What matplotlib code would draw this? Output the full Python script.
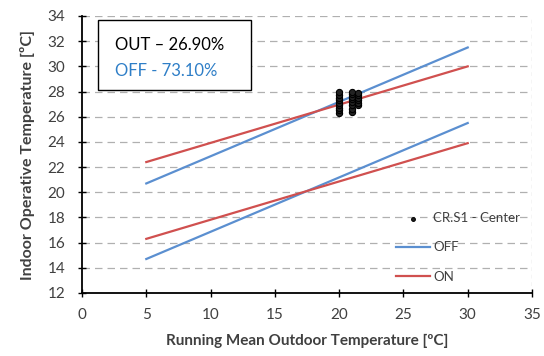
import matplotlib
matplotlib.use("Agg")
import matplotlib.pyplot as plt
from matplotlib.patches import Rectangle

plt.rcParams['font.family'] = ['Lato', 'DejaVu Sans']

x_line = [5, 30]
off_upper = [20.7, 31.5]
off_lower = [14.7, 25.5]
on_upper = [22.4, 30.0]
on_lower = [16.3, 23.9]

scatter_x = [20.0]*9 + [21.0]*8 + [21.5]*6
scatter_y = [26.3, 26.5, 26.7, 26.9, 27.1, 27.3, 27.5, 27.75, 28.0,
             26.4, 26.65, 26.9, 27.15, 27.4, 27.6, 27.8, 27.95,
             26.9, 27.1, 27.3, 27.5, 27.7, 27.9]

xticks = list(range(0, 36, 5))
yticks = list(range(12, 35, 2))

fig = plt.figure(figsize=(5.44, 3.56), dpi=100)
ax = fig.add_axes([82/544, 1-293/356, 450/544, 277/356])

blue = '#5b8fd0'
red = '#d0504f'
ax.plot(x_line, off_upper, color=blue, lw=1.6, label='OFF')
ax.plot(x_line, off_lower, color=blue, lw=1.6)
ax.plot(x_line, on_upper, color=red, lw=1.6, label='ON')
ax.plot(x_line, on_lower, color=red, lw=1.6)
sc = ax.scatter(scatter_x, scatter_y, s=20, facecolor='#222222', edgecolor='black', lw=0.8,
                zorder=3, label='CR.S1 - Center')

ax.set_xlim(0, 35)
ax.set_ylim(12, 34)
ax.set_xticks(xticks)
ax.set_yticks(yticks)
ax.yaxis.grid(True, linestyle=(0, (6, 4)), color='#b0b0b0', lw=0.9)
ax.axvline(35, linestyle=(0, (3, 3)), color='#b0b0b0', lw=0.9, zorder=0)
ax.set_axisbelow(True)
for s in ['top', 'right']:
    ax.spines[s].set_visible(False)
for s in ['left', 'bottom']:
    ax.spines[s].set_linewidth(1.3)
ax.tick_params(direction='inout', length=6, width=1, labelsize=11, colors='#404040')
ax.tick_params(axis='both', color='black')
ax.tick_params(axis='y', pad=9)
ax.tick_params(axis='x', pad=8)

ax.set_xlabel('Running Mean Outdoor Temperature [ºC]', fontsize=11, fontweight='bold',
              color='#404040', labelpad=8)
ax.set_ylabel('Indoor Operative Temperature [ºC]', fontsize=11.5, fontweight='bold',
              color='#404040', labelpad=9)

handles = [sc, ax.lines[0], ax.lines[2]]
leg = ax.legend(handles, ['CR.S1 - Center', 'OFF', 'ON'], loc='lower right',
                bbox_to_anchor=(1.0, -0.005), frameon=False, fontsize=9.5,
                labelspacing=1.3, handlelength=2.6, handletextpad=0.25, markerscale=0.6)
for t in leg.get_texts():
    t.set_color('#404040')

ax.add_patch(Rectangle((0.036, 0.733), 0.34, 0.253, transform=ax.transAxes, facecolor='white',
                       edgecolor='black', lw=1.0, zorder=4))
ax.text(0.073, 0.895, 'OUT – 26.90%', transform=ax.transAxes, fontsize=12, color='black',
        zorder=5, va='center')
ax.text(0.073, 0.80, 'OFF - 73.10%', transform=ax.transAxes, fontsize=12, color='#2e7ec7',
        zorder=5, va='center')

fig.savefig('out.png', dpi=100)
